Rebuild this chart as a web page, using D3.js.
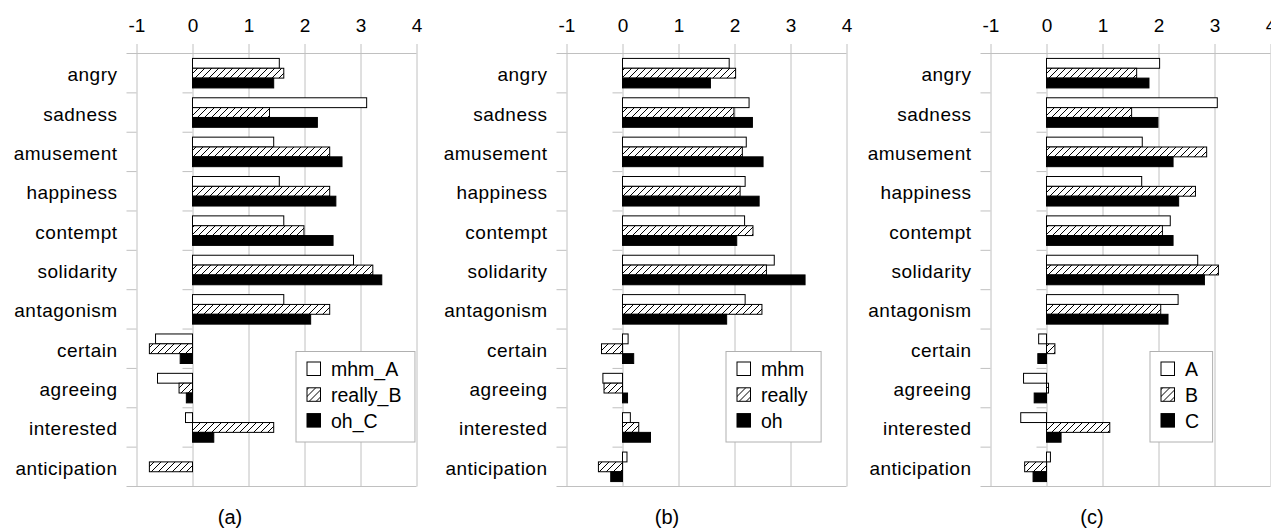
<!DOCTYPE html>
<html>
<head>
<meta charset="utf-8">
<script src="https://cdnjs.cloudflare.com/ajax/libs/d3/7.8.5/d3.min.js"></script>
<style>
	body { margin: 0; background: #fff; }
	svg { font-family: "Liberation Sans", Arial, sans-serif; }
</style>
</head>
<body>
<svg id="chartArea" width="1271" height="529"></svg>
<script>
const categories = ['angry', 'sadness', 'amusement', 'happiness', 'contempt', 'solidarity',
	'antagonism', 'certain', 'agreeing', 'interested', 'anticipation'];
const valueTicks = [-1, 0, 1, 2, 3, 4];

// (a)
const mhmA    = [1.55, 3.11, 1.45, 1.55, 1.63, 2.875, 1.63, -0.66, -0.625, -0.125, 0];
const reallyB = [1.63, 1.375, 2.45, 2.45, 1.99, 3.22, 2.45, -0.77, -0.24, 1.45, -0.77];
const ohC     = [1.45, 2.23, 2.67, 2.56, 2.51, 3.38, 2.11, -0.22, -0.11, 0.38, 0];
// (b)
const mhm     = [1.905, 2.26, 2.21, 2.19, 2.18, 2.71, 2.19, 0.10, -0.35, 0.14, 0.08];
const really  = [2.02, 1.99, 2.14, 2.10, 2.33, 2.57, 2.49, -0.375, -0.33, 0.29, -0.43];
const oh      = [1.57, 2.32, 2.51, 2.44, 2.04, 3.26, 1.86, 0.20, 0.09, 0.50, -0.21];
// (c)
const seriesA = [2.02, 3.05, 1.71, 1.70, 2.21, 2.70, 2.35, -0.14, -0.41, -0.46, 0.07];
const seriesB = [1.61, 1.52, 2.86, 2.66, 2.07, 3.07, 2.04, 0.15, 0.036, 1.13, -0.39];
const seriesC = [1.83, 1.99, 2.26, 2.36, 2.26, 2.82, 2.17, -0.155, -0.22, 0.26, -0.24];

const legendA = ['mhm_A', 'really_B', 'oh_C'];
const legendB = ['mhm', 'really', 'oh'];
const legendC = ['A', 'B', 'C'];
const panelLabels = ['(a)', '(b)', '(c)'];

const panels = [
	{ left: 136.5, labelX: 230, series: [mhmA, reallyB, ohC], names: legendA, label: panelLabels[0] },
	{ left: 566.5, labelX: 667, series: [mhm, really, oh], names: legendB, label: panelLabels[1] },
	{ left: 990.5, labelX: 1092, series: [seriesA, seriesB, seriesC], names: legendC, label: panelLabels[2] }
];

const plotTop = 53.5;
const plotBottom = 486.5;
const unit = 56;
const gridColor = '#c0c0c0';
const fills = ['#fff', 'url(#hatch)', '#000'];

const svg = d3.select('#chartArea');

// hatch pattern
const pat = svg.append('defs').append('pattern')
	.attr('id', 'hatch')
	.attr('patternUnits', 'userSpaceOnUse')
	.attr('width', 7)
	.attr('height', 7);
pat.append('rect').attr('width', 7).attr('height', 7).attr('fill', '#fff');
pat.append('path')
	.attr('d', 'M0,7L7,0M-1,1L1,-1M6,8L8,6')
	.attr('stroke', '#000')
	.attr('stroke-width', 1);

function drawPanel(p) {
	const g = svg.append('g');
	const x = d3.scaleLinear().domain([-1, 4]).range([p.left, p.left + 5 * unit]);
	const y = d3.scaleBand().domain(categories).range([plotTop, plotBottom]);
	const ySub = d3.scaleBand().domain([0, 1, 2]).range([0, y.bandwidth()]).paddingOuter(0.5);

	// value gridlines + top labels
	const ax = g.append('g')
		.attr('transform', `translate(0,${plotBottom})`)
		.call(d3.axisTop(x)
			.tickValues(valueTicks)
			.tickFormat(d => String(d))
			.tickSize(plotBottom - 44)
			.tickPadding(12.3));
	ax.select('.domain').remove();
	ax.selectAll('line').attr('stroke', gridColor);
	ax.selectAll('text')
		.attr('font-size', 19)
		.attr('font-family', '"Liberation Sans", Arial, sans-serif')
		.attr('fill', '#000');

	// top and bottom lines
	[plotTop, plotBottom].forEach(yy => {
		g.append('line')
			.attr('x1', p.left - 10).attr('x2', x(4))
			.attr('y1', yy).attr('y2', yy)
			.attr('stroke', gridColor);
	});

	// category ticks
	d3.range(1, categories.length).forEach(i => {
		const yy = plotTop + i * y.step();
		[p.left, x(0)].forEach(xx => {
			g.append('line')
				.attr('x1', xx - 10).attr('x2', xx)
				.attr('y1', yy).attr('y2', yy)
				.attr('stroke', gridColor);
		});
	});

	// category labels
	g.selectAll('text.cat')
		.data(categories)
		.enter()
		.append('text')
		.attr('class', 'cat')
		.attr('x', p.left - 19)
		.attr('y', d => y(d) + y.bandwidth() / 2)
		.attr('dy', '0.42em')
		.attr('text-anchor', 'end')
		.attr('font-size', 19)
		.attr('letter-spacing', 0.5)
		.text(d => d);

	// bars
	p.series.forEach((vals, s) => {
		g.selectAll(null)
			.data(vals.map((v, i) => ({ cat: categories[i], v: v })).filter(d => d.v !== 0))
			.enter()
			.append('rect')
			.attr('x', d => x(Math.min(0, d.v)))
			.attr('width', d => Math.abs(x(d.v) - x(0)))
			.attr('y', d => y(d.cat) + ySub(s))
			.attr('height', ySub.bandwidth())
			.attr('fill', fills[s])
			.attr('stroke', '#000')
			.attr('stroke-width', 1);
	});

	// legend
	const lg = g.append('g').attr('transform', `translate(${p.left + 159.5},351.5)`);
	const box = lg.append('rect')
		.attr('fill', '#fff')
		.attr('stroke', '#b0b0b0');
	let maxW = 0;
	p.names.forEach((name, i) => {
		lg.append('rect')
			.attr('x', 11).attr('y', 10.5 + i * 25.8)
			.attr('width', 13.5).attr('height', 13.5)
			.attr('fill', fills[i])
			.attr('stroke', '#000');
		const t = lg.append('text')
			.attr('x', 35).attr('y', 24.5 + i * 25.8)
			.attr('font-size', 19.5)
			.text(name);
		maxW = Math.max(maxW, t.node().getComputedTextLength());
	});
	box.attr('width', 35 + maxW + 13.5).attr('height', 90.5);

	// panel label
	g.append('text')
		.attr('x', p.labelX)
		.attr('y', 524)
		.attr('text-anchor', 'middle')
		.attr('font-size', 20)
		.text(p.label);
}

panels.forEach(drawPanel);
</script>
</body>
</html>
